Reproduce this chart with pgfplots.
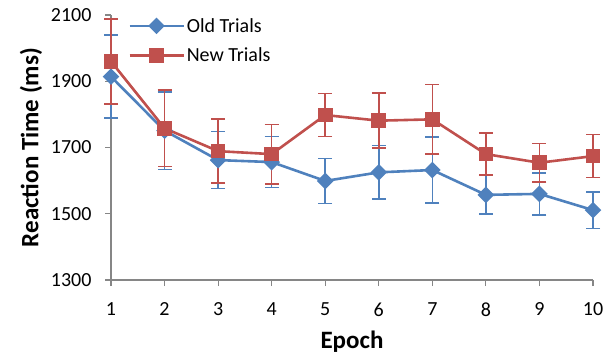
\documentclass[border=0pt]{standalone}
\usepackage{fontspec}
\setmainfont{Carlito}
\usepackage{pgfplots}
\pgfplotsset{compat=1.18}
\definecolor{oldc}{HTML}{4F81BD}
\definecolor{newc}{HTML}{C0504D}
\definecolor{axc}{HTML}{868686}
\begin{document}
\begin{tikzpicture}
\begin{axis}[
  scale only axis, width=482bp, height=265bp,
  xmin=1, xmax=10, ymin=1300, ymax=2100,
  xtick={1,...,10}, ytick={1300,1500,1700,1900,2100},
  axis x line*=bottom, axis y line*=left,
  axis line style={axc, line width=1.2bp, -},
  tick style={axc, line width=1.2bp},
  tick align=outside, major tick length=6bp,
  /pgf/number format/assume math mode=true,
  /pgf/number format/set thousands separator={},
  ticklabel style={font=\fontsize{20bp}{24bp}\selectfont},
  xticklabel style={yshift=-13bp},
  yticklabel style={xshift=-10bp},
  xlabel={\textbf{Epoch}}, ylabel={\textbf{Reaction Time (ms)}},
  label style={font=\fontsize{25bp}{30bp}\selectfont},
  xlabel style={yshift=-8bp},
  ylabel style={yshift=2bp},
  clip=false,
  legend style={at={(17bp,264bp)}, anchor=north west, draw=none, fill=none,
    font=\fontsize{20bp}{24bp}\selectfont, row sep=10bp, inner sep=0pt,
    nodes={inner sep=2bp}},
  legend cell align=left,
  legend image code/.code={\draw[mark repeat=2,mark phase=2] plot coordinates {(0bp,0bp)(27bp,0bp)(54bp,0bp)};},
]
\coordinate (bl) at (rel axis cs:0,0);
\coordinate (tr) at (rel axis cs:1,1);
\addplot[oldc, line width=2.6bp, mark=square*, mark size=4.6bp,
  mark options={rotate=45, solid},
  error bars/.cd, y dir=both, y explicit,
  error bar style={oldc, line width=1.6bp},
  error mark options={rotate=90, mark size=7bp, line width=1.6bp, oldc}]
  coordinates {
  (1,1914) +- (0,125)
  (2,1751) +- (0,117)
  (3,1662) +- (0,86)
  (4,1656) +- (0,77)
  (5,1599) +- (0,68)
  (6,1625) +- (0,81)
  (7,1632) +- (0,100)
  (8,1557) +- (0,58)
  (9,1560) +- (0,63)
  (10,1511) +- (0,55)
  };
\addlegendentry{Old Trials}
\addplot[newc, line width=2.6bp, mark=square*, mark size=6bp,
  mark options={solid},
  error bars/.cd, y dir=both, y explicit,
  error bar style={newc, line width=1.6bp},
  error mark options={rotate=90, mark size=7bp, line width=1.6bp, newc}]
  coordinates {
  (1,1960) +- (0,128)
  (2,1758) +- (0,115)
  (3,1689) +- (0,97)
  (4,1680) +- (0,90)
  (5,1798) +- (0,65)
  (6,1781) +- (0,83)
  (7,1785) +- (0,105)
  (8,1680) +- (0,63)
  (9,1654) +- (0,58)
  (10,1674) +- (0,65)
  };
\addlegendentry{New Trials}
\end{axis}
\path (bl) ++(-111bp,-80bp) rectangle ([shift={(20bp,15bp)}]tr);
\end{tikzpicture}
\end{document}
